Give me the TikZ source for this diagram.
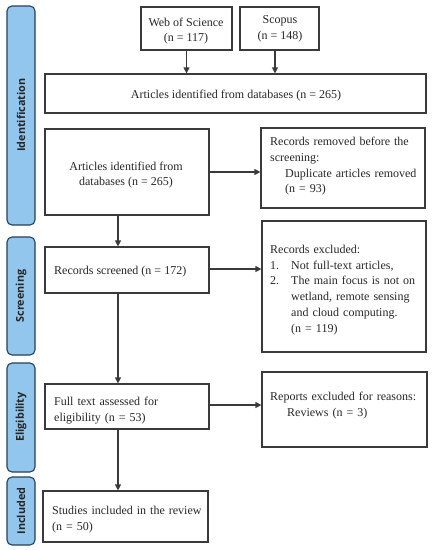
\documentclass[tikz,border=0pt]{standalone}
\usepackage{fontspec}
\setmainfont{Liberation Serif}
\newfontfamily\sidefont{Open Sans}
\usetikzlibrary{arrows.meta,calc}
\definecolor{sidefill}{HTML}{92C6EC}
\definecolor{sidedraw}{HTML}{24405C}
\definecolor{boxdraw}{HTML}{3A3A3A}
\definecolor{txt}{HTML}{262626}
\tikzset{
  sidebar/.style={draw=sidedraw, fill=sidefill, line width=1.1pt, rounded corners=5pt},
  sidelabel/.style={rotate=90, font=\sidefont\bfseries\fontsize{10.8}{12}\selectfont, text=txt},
  box/.style={draw=boxdraw, line width=1.2pt, inner sep=0pt, rectangle},
  txtnode/.style={inner sep=0pt, text=txt, font=\rmfamily\fontsize{12}{15.7}\selectfont},
  arr/.style={draw=boxdraw, line width=1.2pt, -{Triangle[length=6pt,width=6pt]}}
}
\begin{document}
\begin{tikzpicture}[x=1pt,y=-1pt]
\useasboundingbox (0,0) rectangle (432,550);
% sidebars
\draw[sidebar] (7,6) rectangle (35,225);
\draw[sidebar] (7,237) rectangle (35,355);
\draw[sidebar] (7,363) rectangle (35,472);
\draw[sidebar] (7,477) rectangle (35,545);
\node[sidelabel] (lid) at (21,115) {Identification};
\node[sidelabel] (lsc) at (21,296) {Screening};
\node[sidelabel] (lel) at (21,417) {Eligibility};
\node[sidelabel] (lin) at (21,511) {Included};
% boxes
\node[box, minimum width=91pt, minimum height=43pt] (wos) at (186.5,28.5) {};
\node[box, minimum width=79pt, minimum height=43pt] (scopus) at (279.5,28.5) {};
\node[box, minimum width=381pt, minimum height=39pt] (art1) at (235.5,93.5) {};
\node[box, minimum width=164pt, minimum height=86pt] (art2) at (127,172) {};
\node[box, minimum width=164pt, minimum height=80pt] (rem) at (343,168) {};
\node[box, minimum width=164pt, minimum height=46pt] (scr) at (127,270) {};
\node[box, minimum width=164pt, minimum height=131pt] (exc) at (344,286.5) {};
\node[box, minimum width=164pt, minimum height=45pt] (full) at (127,406.5) {};
\node[box, minimum width=165pt, minimum height=75pt] (rep) at (344.5,409.5) {};
\node[box, minimum width=165pt, minimum height=51pt] (stu) at (125.5,516.5) {};
% texts
\node[txtnode, align=center] (twos) at (186,31) {Web of Science\\(n = 117)};
\node[txtnode, align=center] (tsco) at (280,29) {Scopus\\(n = 148)};
\node[txtnode] (tart1) at (236,96) {Articles identified from databases (n = 265)};
\node[txtnode, align=center] (tart2) at (126,175) {Articles identified from\\databases (n = 265)};
\node[txtnode, anchor=north west, text width=147pt, align=left] (trem) at (270,137)
  {\makebox[\linewidth][s]{Records removed before the}\\
   screening:\\
   \hspace*{15pt}Duplicate articles removed\\
   \hspace*{15pt}(n = 93)};
\node[txtnode, anchor=west] (tscr) at (54,272) {Records screened (n = 172)};
\node[txtnode, anchor=north west, text width=148pt, align=left] (texc) at (270,245)
  {Records excluded:\\
   \makebox[21pt][l]{1.}Not full-text articles,\\
   \makebox[21pt][l]{2.}\makebox[126pt][s]{The main focus is not on}\\
   \hspace*{21pt}\makebox[126pt][s]{wetland, remote sensing}\\
   \hspace*{21pt}and cloud computing.\\
   \hspace*{21pt}(n = 119)};
\node[txtnode, anchor=north west, text width=148pt, align=left] (tfull) at (54,397)
  {\makebox[\linewidth][s]{Full text assessed for}\\
   eligibility (n = 53)};
\node[txtnode, anchor=north west, text width=150pt, align=left] (trep) at (270,392)
  {Reports excluded for reasons:\\
   \hspace*{17pt}Reviews (n = 3)};
\node[txtnode, anchor=north west, text width=152pt, align=left] (tstu) at (52,506)
  {Studies included in the review\\
   (n = 50)};
% connectors
\draw[arr] (wos.south) -- (wos.south |- art1.north);
\draw[arr] ([xshift=-4.5pt]scopus.south) -- ([xshift=-4.5pt]scopus.south |- art1.north);
\draw[arr] (art2.east) -- (art2.east -| rem.west);
\draw[arr] ([xshift=-9pt]art2.south) -- ([xshift=-9pt]art2.south |- scr.north);
\draw[arr] ([yshift=1pt]scr.east) -- ([yshift=1pt]scr.east -| exc.west);
\draw[arr] ([xshift=-9pt]scr.south) -- ([xshift=-9pt]scr.south |- full.north);
\draw[arr] ([yshift=1.5pt]full.east) -- ([yshift=1.5pt]full.east -| rep.west);
\draw[arr] ([xshift=-9pt]full.south) -- ([xshift=-9pt]full.south |- stu.north);
\end{tikzpicture}
\end{document}
